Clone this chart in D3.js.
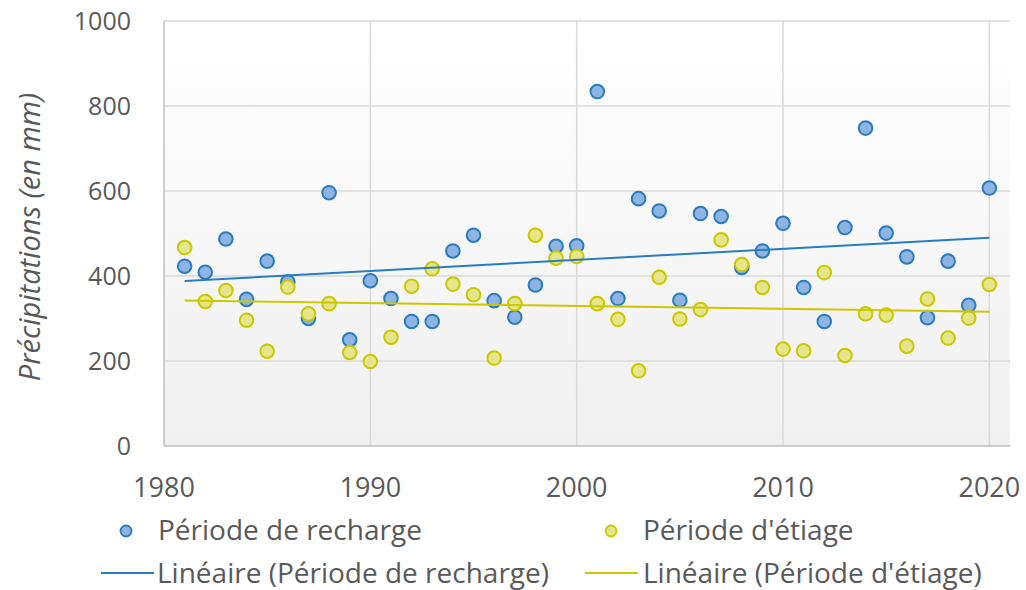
<!DOCTYPE html>
<html>
<head>
<meta charset="utf-8">
<script src="https://cdnjs.cloudflare.com/ajax/libs/d3/7.8.5/d3.min.js"></script>
<style>
  body { margin: 0; background: #fff; }
  text { font-family: "Open Sans", sans-serif; fill: #595959; }
</style>
</head>
<body>
<svg id="chart" width="1026" height="590"></svg>
<script>
width = 1026;
height = 590;

// years 1981..2020
years = d3.range(1981, 2021);
recharge = [423, 409, 487, 345, 435, 386, 300, 596, 250, 389,
            347, 293, 293, 459, 496, 342, 303, 379, 470, 471,
            834, 347, 582, 553, 343, 547, 540, 420, 459, 524,
            373, 293, 514, 748, 501, 445, 302, 435, 331, 607];
etiage = [467, 340, 366, 296, 223, 374, 311, 335, 220, 199,
          256, 376, 417, 381, 356, 207, 335, 496, 442, 446,
          335, 298, 177, 397, 299, 321, 485, 427, 373, 228,
          224, 408, 213, 311, 308, 235, 346, 254, 301, 380];
yTicks = [0, 200, 400, 600, 800, 1000];
xTicks = [1980, 1990, 2000, 2010, 2020];

blueFill = '#8db4e2', blueStroke = '#2a7cc1';
yelFill = '#e5e68c', yelStroke = '#cbc800';

plot = {left: 164, top: 21, right: 1010, bottom: 446};

svg = d3.select('#chart');

x = d3.scaleLinear().domain([1980, 2021]).range([plot.left, plot.right]);
y = d3.scaleLinear().domain([0, 1000]).range([plot.bottom, plot.top]);

// plot background gradient
grad = svg.append('defs').append('linearGradient')
	.attr('id', 'bg').attr('x1', 0).attr('y1', 0).attr('x2', 0).attr('y2', 1);
grad.append('stop').attr('offset', '0%').attr('stop-color', '#ffffff');
grad.append('stop').attr('offset', '100%').attr('stop-color', '#f0f0f0');

svg.append('rect')
	.attr('x', plot.left).attr('y', plot.top)
	.attr('width', plot.right - plot.left).attr('height', plot.bottom - plot.top)
	.attr('fill', 'url(#bg)');

// gridlines
svg.append('g').selectAll('line').data(yTicks.filter(d => d > 0)).join('line')
	.attr('x1', plot.left).attr('x2', plot.right)
	.attr('y1', d => y(d)).attr('y2', d => y(d))
	.attr('stroke', '#d9d9d9').attr('stroke-width', 1.5);
svg.append('g').selectAll('line').data(xTicks.filter(d => d > 1980)).join('line')
	.attr('x1', d => x(d)).attr('x2', d => x(d))
	.attr('y1', plot.top).attr('y2', plot.bottom)
	.attr('stroke', '#d9d9d9').attr('stroke-width', 1.5);

// axes lines
svg.append('line').attr('x1', plot.left).attr('x2', plot.left)
	.attr('y1', plot.top).attr('y2', plot.bottom)
	.attr('stroke', '#bfbfbf').attr('stroke-width', 1.5);
svg.append('line').attr('x1', plot.left).attr('x2', plot.right)
	.attr('y1', plot.bottom).attr('y2', plot.bottom)
	.attr('stroke', '#bfbfbf').attr('stroke-width', 1.5);

// tick labels
svg.append('g').selectAll('text').data(yTicks).join('text')
	.attr('x', 131).attr('y', d => y(d) + 9)
	.attr('text-anchor', 'end')
	.style('font-size', '25px')
	.text(d => d);
svg.append('g').selectAll('text').data(xTicks).join('text')
	.attr('x', d => x(d)).attr('y', 497)
	.attr('text-anchor', 'middle')
	.style('font-size', '27px')
	.text(d => d);

svg.append('text')
	.attr('transform', 'translate(40,237) rotate(-90)')
	.attr('text-anchor', 'middle')
	.style('font-size', '29px').style('font-style', 'italic')
	.text('Précipitations (en mm)');

// linear trend (least squares)
function trend(vals){
	let mx = d3.mean(years), my = d3.mean(vals);
	let num = d3.sum(years, (t, i) => (t - mx) * (vals[i] - my));
	let den = d3.sum(years, t => (t - mx) * (t - mx));
	let b = num / den, a = my - b * mx;
	return [years[0], years[years.length - 1]].map(t => [t, a + b * t]);
}
line = d3.line().x(d => x(d[0])).y(d => y(d[1]));

function drawSeries(vals, fill, stroke){
	svg.append('g').selectAll('circle').data(vals).join('circle')
		.attr('cx', (d, i) => x(years[i])).attr('cy', d => y(d))
		.attr('r', 6.8)
		.attr('fill', fill).attr('stroke', stroke).attr('stroke-width', 2);
}
drawSeries(recharge, blueFill, blueStroke);
drawSeries(etiage, yelFill, yelStroke);

svg.append('path').datum(trend(recharge)).attr('d', line)
	.attr('fill', 'none').attr('stroke', blueStroke).attr('stroke-width', 2);
svg.append('path').datum(trend(etiage)).attr('d', line)
	.attr('fill', 'none').attr('stroke', yelStroke).attr('stroke-width', 2);

// legend
legend = svg.append('g').style('font-size', '28px');
legend.append('circle').attr('cx', 126).attr('cy', 531).attr('r', 5.5)
	.attr('fill', blueFill).attr('stroke', blueStroke).attr('stroke-width', 1.8);
legend.append('text').attr('x', 158).attr('y', 540).text('Période de recharge');
legend.append('circle').attr('cx', 611).attr('cy', 531).attr('r', 5.5)
	.attr('fill', yelFill).attr('stroke', yelStroke).attr('stroke-width', 1.8);
legend.append('text').attr('x', 643).attr('y', 540).text("Période d'étiage");

legend.append('line').attr('x1', 101).attr('x2', 154).attr('y1', 573).attr('y2', 573)
	.attr('stroke', blueStroke).attr('stroke-width', 2);
legend.append('text').attr('x', 157).attr('y', 583).text('Linéaire (Période de recharge)');
legend.append('line').attr('x1', 585).attr('x2', 638).attr('y1', 573).attr('y2', 573)
	.attr('stroke', yelStroke).attr('stroke-width', 2);
legend.append('text').attr('x', 643).attr('y', 583).text("Linéaire (Période d'étiage)");
</script>
</body>
</html>
